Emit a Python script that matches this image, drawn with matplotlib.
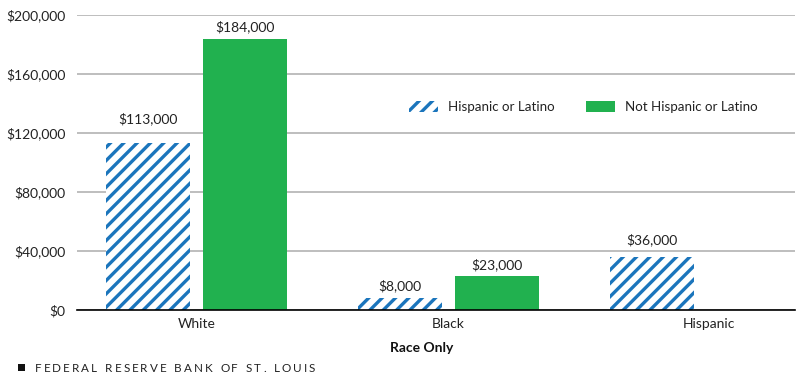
import matplotlib
matplotlib.use("Agg")
import matplotlib.pyplot as plt
from matplotlib.patches import Patch, Rectangle
from matplotlib.transforms import ScaledTranslation
import numpy as np

categories = ["White", "Black", "Hispanic"]
hispanic_vals = [113000, 8000, 36000]
not_hispanic_vals = [184000, 23000, 0]
series_names = ["Hispanic or Latino", "Not Hispanic or Latino"]
yticks = [0, 40000, 80000, 120000, 160000, 200000]

BLUE = "#1b75bc"
GREEN = "#21b14f"
FONT = "Lato"

DPI = 120
W, H = 800, 375
plt.rcParams["font.family"] = [FONT, "DejaVu Sans"]
plt.rcParams["hatch.linewidth"] = 2.0
plt.rcParams["hatch.color"] = BLUE

fig = plt.figure(figsize=(W / DPI, H / DPI), dpi=DPI)
ax = fig.add_axes([77 / W, 1 - 310 / H, (795 - 77) / W, (310 - 15) / H])

x = np.arange(len(categories))
bw = 0.333
off = 0.193
FS = 8.3

ax.bar(x - off, hispanic_vals, bw, color="white", edgecolor=BLUE, hatch="///",
       linewidth=0, zorder=3)
ax.bar(x + off, not_hispanic_vals, bw, color=GREEN, linewidth=0, zorder=3)

# label gaps (pixels) above bars, as placed in the original
gap_h = [20, 8, 13]
gap_n = [7, 7, 7]
for xs, vals, gaps in ((x - off, hispanic_vals, gap_h), (x + off, not_hispanic_vals, gap_n)):
    for xi, v, g in zip(xs, vals, gaps):
        if v > 0:
            ax.annotate(f"${v:,.0f}", (xi, v), xytext=(0, g), textcoords="offset pixels",
                        ha="center", va="baseline", fontsize=FS, color="#222222")

ax.set_xlim(-0.474, 2.375)
ax.set_ylim(0, 200000)
ax.set_yticks(yticks)
ax.set_yticklabels([f"${t:,.0f}" for t in yticks])
ax.set_xticks(x)
ax.set_xticklabels(categories)
ax.tick_params(axis="both", length=0, labelsize=FS, labelcolor="#222222")
ax.tick_params(axis="y", pad=7)
ax.tick_params(axis="x", pad=5)
lab = ax.get_xticklabels()[2]
lab.set_transform(lab.get_transform() + ScaledTranslation(8 / DPI, 0, fig.dpi_scale_trans))
ax.grid(axis="y", color="#b3b3b3", linewidth=1.0, zorder=0)
ax.set_axisbelow(True)
for s in ["left", "right", "top"]:
    ax.spines[s].set_visible(False)
ax.spines["bottom"].set_color("black")
ax.spines["bottom"].set_linewidth(1.0)
ax.spines["bottom"].set_zorder(4)

handles = [Patch(facecolor="white", edgecolor=BLUE, hatch="///", linewidth=0),
           Patch(facecolor=GREEN, linewidth=0)]
fig.legend(handles, series_names, loc="center left",
           bbox_to_anchor=(409 / W, 1 - 107 / H), bbox_transform=fig.transFigure,
           ncol=2, frameon=False, fontsize=8.0, handlelength=2.2, handleheight=0.95,
           handletextpad=0.75, columnspacing=2.3, borderpad=0, borderaxespad=0,
           labelcolor="#222222")

fig.text(422 / W, 1 - 348 / H, "Race Only", ha="center", va="center", fontsize=FS,
         fontweight="bold", color="#111111")

# footer
fig.patches.append(Rectangle((18 / W, 1 - 371 / H), 7 / W, 7 / H, transform=fig.transFigure,
                             facecolor="#111111", edgecolor="none"))
footer = "FEDERAL RESERVE BANK OF ST. LOUIS"
renderer = fig.canvas.get_renderer()
x0, x1 = 35.0, 315.0
fs = 7.0
widths = []
for ch in footer:
    t = fig.text(0, 0, ch if ch != " " else "I", fontsize=fs)
    bb = t.get_window_extent(renderer)
    widths.append(bb.width if ch != " " else bb.width * 1.2)
    t.remove()
n = len(footer)
track = ((x1 - x0) - sum(widths)) / (n - 1)
cx = x0
for ch, w in zip(footer, widths):
    if ch != " ":
        fig.text(cx / W, 1 - 368 / H, ch, fontsize=fs, color="#222222", va="center", ha="left")
    cx += w + track

fig.savefig("out.png", dpi=DPI)
